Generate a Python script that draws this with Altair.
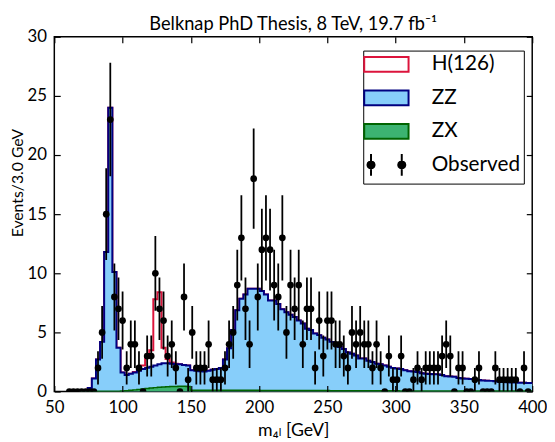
import math
import altair as alt
import pandas as pd

# ---------------- data ----------------
HIST_FIRST_CENTER = 70      # centre of first histogram bin, GeV
BIN_WIDTH = 3               # GeV

# stacked contributions per 3 GeV bin (bin centres 70, 73, ..., 400)
zx_events = [
    0, 0, 0, 0, 0.02, 0.02, 0.02, 0.02, 0.02, 0.02,
    0.04, 0.06, 0.1, 0.14, 0.18, 0.22, 0.26, 0.3, 0.33, 0.36, 0.38, 0.4, 0.42, 0.43, 0.44, 0.44, 0.42,
    0.1, 0.1, 0.1, 0.1, 0.1, 0.1, 0.1, 0.1, 0.1, 0.1, 0.1, 0.1, 0.1, 0.1, 0.1, 0.1, 0.1,
    0.08, 0.08, 0.08, 0.08, 0.08, 0.08, 0.08, 0.08, 0.08, 0.08, 0.08, 0.08, 0.08, 0.08, 0.08, 0.08, 0.08,
    0.06, 0.06, 0.06, 0.06, 0.06, 0.06, 0.06, 0.06, 0.06, 0.06, 0.06, 0.06, 0.06, 0.06, 0.06, 0.06, 0.06,
    0.05, 0.05, 0.05, 0.05, 0.05, 0.05, 0.05, 0.05, 0.05, 0.05, 0.05, 0.05, 0.05, 0.05, 0.05, 0.05, 0.05,
    0.04, 0.04, 0.04, 0.04, 0.04, 0.04, 0.04, 0.04, 0.04, 0.04, 0.04, 0.04, 0.04, 0.04, 0.04, 0.04,
]
zz_events = [
    0.02, 0.05, 0.3, 1.1, 2.68, 4.18, 11.78, 23.98, 10.08, 3.68,
    1.56, 1.34, 1.4, 1.46, 1.57, 1.68, 1.74, 1.8, 1.87, 1.94, 2.02, 2.0, 1.93, 1.87, 1.86, 1.81, 1.78,
    1.7, 1.65, 1.62, 1.6, 1.65, 1.75, 1.8, 1.9, 2.6, 3.56, 5.1, 6.77, 7.75, 8.1, 8.6, 8.6, 8.6,
    8.42, 8.12, 7.62, 7.62, 7.32, 6.87, 6.62, 6.42, 6.22, 5.92, 5.67, 5.22, 5.12, 4.82, 4.69, 4.47, 4.32,
    4.14, 3.99, 3.71, 3.54, 3.24, 3.14, 2.99, 2.74, 2.74, 2.54, 2.44, 2.29, 2.24, 2.14, 2.04, 1.94, 1.89,
    1.85, 1.75, 1.67, 1.65, 1.6, 1.5, 1.45, 1.43, 1.41, 1.4, 1.35, 1.25, 1.23, 1.2, 1.1, 1.05, 1.03,
    1.02, 1.01, 0.94, 0.9, 0.88, 0.86, 0.82, 0.78, 0.76, 0.74, 0.73, 0.72, 0.71, 0.7, 0.68, 0.68,
]
h126_centers = [109, 112, 115, 118, 121, 124, 127, 130, 133, 136, 139]
h126_events = [0.05, 0.1, 0.3, 0.9, 1.4, 5.6, 6.1, 1.3, 0.35, 0.1, 0.05]

# observed counts, bin centres 61, 64, ..., 397
OBS_FIRST_CENTER = 61
obs_events = [
    0, 0, 0, 0, 0, 0, 0, 2, 5, 15, 23, 8, 7, 6, 2, 4, 4, 2, 0, 3,
    3, 10, 7, 6, 3, 4, 2, 0, 8, 1, 5, 2, 2, 2, 4, 1, 1, 1, 2, 4,
    5, 9, 13, 7, 4, 18, 8, 12, 13, 12, 9, 8, 13, 5, 9, 7, 9, 4, 7, 7,
    2, 6, 3, 6, 6, 4, 4, 3, 2, 5, 4, 5, 4, 4, 2, 4, 2, 0, 3, 1,
    1, 3, 0, 0, 1, 2, 1, 2, 2, 2, 2, 3, 4, 3, 0, 2, 2, 0, 0, 1,
    2, 0, 0, 0, 2, 1, 1, 1, 1, 1, 0, 2, 0,
]

x_ticks = [50, 100, 150, 200, 250, 300, 350, 400]
y_ticks = [0, 5, 10, 15, 20, 25, 30]
legend_names = ["H(126)", "ZZ", "ZX", "Observed"]

TITLE = "Belknap PhD Thesis, 8 TeV, 19.7 fb\u207b\u00b9"
X_TITLE = "m\u2084\u2097 [GeV]"
Y_TITLE = "Events/3.0 GeV"

# ---------------- styles ----------------
FONT = "Lato, DejaVu Sans"
RED = "#dc143c"
ZZ_FILL = "#87cefa"
NAVY = "#000080"
ZX_FILL = "#3cb371"
ZX_LINE = "#006400"

# ---------------- tables ----------------
n = len(zz_events)
centers = [HIST_FIRST_CENTER + BIN_WIDTH * i for i in range(n)]
h_lookup = dict(zip(h126_centers, h126_events))
h_all = [h_lookup.get(c, 0.0) for c in centers]
edges = [c - BIN_WIDTH / 2 for c in centers] + [centers[-1] + BIN_WIDTH / 2]
zx_top = list(zx_events)
zz_top = [a + b for a, b in zip(zx_top, zz_events)]
tot_top = [a + b for a, b in zip(zz_top, h_all)]
hist = pd.DataFrame({
    "m": edges,
    "zx": zx_top + [zx_top[-1]],
    "zz": zz_top + [zz_top[-1]],
    "tot": tot_top + [tot_top[-1]],
})

obs = pd.DataFrame({
    "m": [OBS_FIRST_CENTER + BIN_WIDTH * i for i in range(len(obs_events))],
    "n": obs_events,
})
obs["lo"] = obs["n"] - obs["n"].apply(math.sqrt)
obs["hi"] = obs["n"] + obs["n"].apply(math.sqrt)
obs_bars = obs[obs["n"] > 0]

xs = alt.Scale(domain=[50, 400], nice=False, zero=False)
ys = alt.Scale(domain=[0, 30], nice=False, zero=False)


def tick_axis(orient, values):
    return alt.Axis(orient=orient, values=values, labels=False, ticks=True,
                    tickSize=6, tickWidth=1.2, tickColor="black", domain=False,
                    grid=False, offset=-6, title=None, zindex=1)


x_lab = alt.Axis(orient="bottom", values=x_ticks, format="d", labels=True,
                 ticks=False, tickSize=0, domain=False, grid=False,
                 labelFont=FONT, labelFontSize=17, labelColor="black",
                 labelPadding=8, labelFlush=False, labelOverlap=False,
                 title=X_TITLE, titleFont=FONT, titleFontSize=18,
                 titleFontWeight="normal", titleColor="black", titlePadding=7)
y_lab = alt.Axis(orient="left", values=y_ticks, format="d", labels=True,
                 ticks=False, tickSize=0, domain=False, grid=False,
                 labelFont=FONT, labelFontSize=17, labelColor="black",
                 labelPadding=8, labelFlush=False, labelOverlap=False,
                 title=Y_TITLE, titleFont=FONT, titleFontSize=16,
                 titleFontWeight="normal", titleColor="black", titlePadding=2,
                 titleY=148)

base_h = alt.Chart(hist)

red_line = base_h.mark_line(interpolate="step-after", color=RED, strokeWidth=2,
                            clip=True).encode(
    x=alt.X("m:Q", scale=xs, axis=x_lab),
    y=alt.Y("tot:Q", scale=ys, axis=y_lab),
)
zz_area = base_h.mark_area(interpolate="step-after", color=ZZ_FILL, opacity=1,
                           clip=True).encode(
    x=alt.X("m:Q", scale=xs, axis=tick_axis("bottom", x_ticks)),
    y=alt.Y("zz:Q", scale=ys, axis=tick_axis("left", y_ticks)),
)
zz_line = base_h.mark_line(interpolate="step-after", color=NAVY, strokeWidth=2,
                           clip=True).encode(
    x=alt.X("m:Q", scale=xs, axis=tick_axis("top", x_ticks)),
    y=alt.Y("zz:Q", scale=ys, axis=tick_axis("right", y_ticks)),
)
zx_area = base_h.mark_area(interpolate="step-after", color=ZX_FILL, opacity=1,
                           clip=True).encode(
    x=alt.X("m:Q", scale=xs, axis=None),
    y=alt.Y("zx:Q", scale=ys, axis=None),
)
zx_line = base_h.mark_line(interpolate="step-after", color=ZX_LINE,
                           strokeWidth=1.5, clip=True).encode(
    x=alt.X("m:Q", scale=xs, axis=None),
    y=alt.Y("zx:Q", scale=ys, axis=None),
)
err = alt.Chart(obs_bars).mark_rule(color="black", strokeWidth=1.8,
                                    clip=True).encode(
    x=alt.X("m:Q", scale=xs, axis=None),
    y=alt.Y("lo:Q", scale=ys, axis=None),
    y2="hi:Q",
)
pts = alt.Chart(obs).mark_circle(color="black", size=46, opacity=1,
                                 clip=True).encode(
    x=alt.X("m:Q", scale=xs, axis=None),
    y=alt.Y("n:Q", scale=ys, axis=None),
)


# ---------------- legend ----------------
def polygon(cx, r, k=12):
    pts_ = []
    for i in range(k):
        a = 2 * math.pi * i / k
        pts_.append((cx + r * math.cos(a), r * math.sin(a)))
    s = "M%.3f,%.3f" % pts_[0]
    for p in pts_[1:]:
        s += "L%.3f,%.3f" % p
    return s + "Z"


EXTENT = "M0,-1.2M0,1.2"
RECT = EXTENT + "M-2.25,-0.75L2.25,-0.75L2.25,0.75L-2.25,0.75Z"
OBS_SYM = (EXTENT + "M-1.56,-1.1L-1.56,1.1M1.56,-1.1L1.56,1.1"
           + polygon(-1.56, 0.36) + polygon(1.56, 0.36))

leg_df = pd.DataFrame({"series": legend_names, "m": [60] * 4, "v": [1] * 4})
leg = alt.Legend(orient="none", legendX=313.5, legendY=14, title=None,
                 symbolSize=400, symbolStrokeWidth=2, symbolOpacity=1,
                 symbolFillColor="white", symbolStrokeColor="black",
                 labelFont=FONT, labelFontSize=21, labelColor="black",
                 labelOffset=35, symbolOffset=9.5, padding=3, rowPadding=2,
                 strokeColor="black", fillColor="white", cornerRadius=0)
legend_layer = alt.Chart(leg_df).mark_point(opacity=0, filled=True).encode(
    x=alt.X("m:Q", scale=xs, axis=None),
    y=alt.Y("v:Q", scale=ys, axis=None),
    fill=alt.Fill("series:N", scale=alt.Scale(
        domain=legend_names, range=["white", ZZ_FILL, ZX_FILL, "black"]), legend=leg),
    stroke=alt.Stroke("series:N", scale=alt.Scale(
        domain=legend_names, range=[RED, NAVY, ZX_LINE, "black"]), legend=leg),
    shape=alt.Shape("series:N", scale=alt.Scale(
        domain=legend_names, range=[RECT, RECT, RECT, OBS_SYM]), legend=leg),
)

chart = alt.layer(
    red_line, zz_area, zz_line, zx_area, zx_line, err, pts, legend_layer
).resolve_axis(x="independent", y="independent").properties(
    width=485, height=360,
    autosize=alt.AutoSizeParams(type="none"),
    padding={"left": 47, "top": 26, "right": 15, "bottom": 48},
    title=alt.TitleParams(TITLE, font=FONT, fontSize=18.5, fontWeight="normal",
                          color="black", anchor="middle", offset=-6),
).configure_view(stroke="black", strokeWidth=1.5)

if "strokeWidth" in alt.LegendConfig._schema.get("properties", {}):
    chart = chart.configure_legend(strokeWidth=1.5)

chart.save("out.html", embed_options={"renderer": "svg", "actions": False})
